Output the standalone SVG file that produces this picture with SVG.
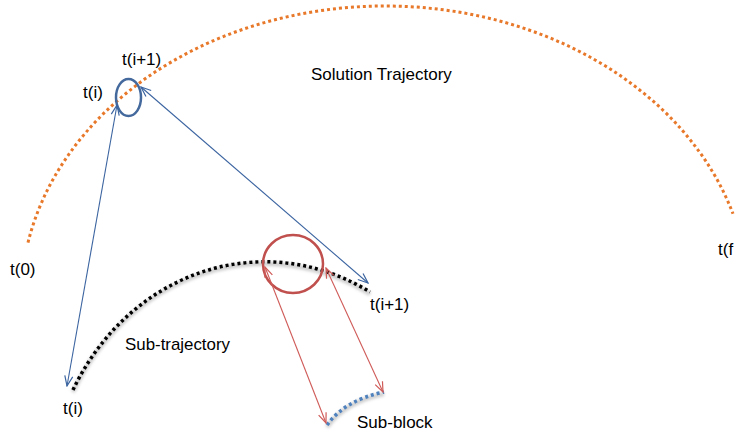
<svg xmlns="http://www.w3.org/2000/svg" width="735" height="435" viewBox="0 0 735 435">
  <style>
    .lbl { font-family: "Liberation Sans", Arial, sans-serif; font-size: 17px; fill: #000; }
    .traj-orange { fill: none; stroke: #E8782A; stroke-width: 3; stroke-dasharray: 3 3; }
    .traj-black { fill: none; stroke: #000; stroke-width: 3.5; stroke-dasharray: 3 3; }
    .traj-blue { fill: none; stroke: #4F81BD; stroke-width: 3.5; stroke-dasharray: 3 3; }
    .shadow { fill: none; stroke: #9a9a9a; stroke-width: 4; opacity: 0.5; filter: url(#soft); }
    .link-blue { fill: none; stroke: #3B64A0; stroke-width: 1.1; marker-start: url(#arrBlue); marker-end: url(#arrBlue); }
    .link-red { fill: none; stroke: #CF5B58; stroke-width: 1.1; marker-start: url(#arrRed); marker-end: url(#arrRed); }
  </style>
  <defs>
    <filter id="soft" x="-10%" y="-10%" width="120%" height="120%">
      <feGaussianBlur stdDeviation="1.5"/>
    </filter>
    <marker id="arrBlue" viewBox="0 0 12 10" refX="11" refY="5" markerWidth="12" markerHeight="10" markerUnits="userSpaceOnUse" orient="auto-start-reverse">
      <path d="M1,1 L11,5 L1,9" fill="none" stroke="#3B64A0" stroke-width="1.2"/>
    </marker>
    <marker id="arrRed" viewBox="0 0 12 10" refX="11" refY="5" markerWidth="12" markerHeight="10" markerUnits="userSpaceOnUse" orient="auto-start-reverse">
      <path d="M1,1 L11,5 L1,9" fill="none" stroke="#CF5B58" stroke-width="1.2"/>
    </marker>
  </defs>

  <rect width="735" height="435" fill="#fff"/>

  <!-- main solution trajectory -->
  <g id="solution-trajectory">
    <path class="traj-orange" d="M 28 242.6 A 364 294 0 0 1 733 213.8"/>
  </g>

  <!-- sub-trajectory with soft shadow -->
  <g id="sub-trajectory">
    <path class="shadow" d="M 73 392 A 216 238 0 0 1 370 294"/>
    <path class="traj-black" d="M 73 390 A 216 238 0 0 1 370 292"/>
  </g>

  <!-- sub-block -->
  <g id="sub-block">
    <path class="shadow" d="M 327 427 Q 345 402 384 394"/>
    <path class="traj-blue" d="M 327 425 Q 345 400 384 392"/>
  </g>

  <!-- window markers -->
  <g id="window-solution">
    <ellipse cx="128.5" cy="97.5" rx="12.5" ry="18.5" fill="none" stroke="#44699D" stroke-width="2.5"/>
  </g>
  <g id="window-sub">
    <ellipse cx="293" cy="264" rx="30" ry="29" fill="none" stroke="#C0504D" stroke-width="2.5"/>
  </g>

  <!-- connectors -->
  <g id="connectors">
    <line class="link-blue" x1="117" y1="105" x2="67" y2="386"/>
    <line class="link-blue" x1="141" y1="87" x2="368" y2="283"/>
    <line class="link-red" x1="265" y1="267" x2="326" y2="423"/>
    <line class="link-red" x1="326" y1="268" x2="383" y2="392"/>
  </g>

  <!-- labels -->
  <g id="labels">
    <text class="lbl" x="311" y="80">Solution Trajectory</text>
    <text class="lbl" x="122" y="65">t(i+1)</text>
    <text class="lbl" x="83" y="98">t(i)</text>
    <text class="lbl" x="10" y="275">t(0)</text>
    <text class="lbl" x="718" y="255">t(f</text>
    <text class="lbl" x="370" y="310">t(i+1)</text>
    <text class="lbl" x="63" y="414">t(i)</text>
    <text class="lbl" x="125" y="350" textLength="105" lengthAdjust="spacingAndGlyphs">Sub-trajectory</text>
    <text class="lbl" x="357" y="428">Sub-block</text>
  </g>
</svg>
